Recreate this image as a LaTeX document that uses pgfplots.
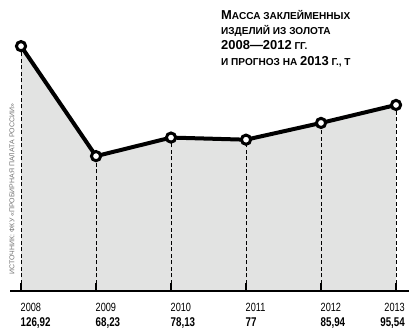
\documentclass[border=0pt]{standalone}
\usepackage{fontspec}
\setmainfont{Liberation Sans}
\usepackage{pgfplots}
\pgfplotsset{compat=1.18}
\definecolor{fillgray}{RGB}{226,227,226}
\definecolor{srcgray}{RGB}{115,115,115}
\newcommand\bg[1]{{\fontsize{13}{13}\selectfont #1}}
\newcommand\sm[1]{{\fontsize{10.1}{10}\selectfont\MakeUppercase{#1}}}
\newcommand\yr[1]{\scalebox{1}[1.3]{\fontsize{9.2}{10}\selectfont #1}}
\newcommand\vl[1]{\scalebox{1}[1.3]{\fontsize{9.8}{10}\selectfont\bfseries #1}}
\begin{document}
\begin{tikzpicture}[x=1bp,y=1bp]
\path[use as bounding box] (0,0) rectangle (418,330);
\begin{axis}[at={(10bp,39.3bp)}, anchor=south west, scale only axis,
  width=399bp, height=250.7bp,
  xmin=2007.853, xmax=2013.173, ymin=-3.58, ymax=130.2,
  axis lines=none, clip=false]
\addplot[fill=fillgray, draw=none] coordinates {(2008,-3.58) (2008,126.92) (2009,68.23) (2010,78.13) (2011,77) (2012,85.94) (2013,95.54) (2013,-3.58)} -- cycle;
\addplot[ycomb, black, line width=0.9bp, dash pattern=on 4bp off 2.5bp] coordinates {(2008,126.92) (2009,68.23) (2010,78.13) (2011,77) (2012,85.94) (2013,95.54)};
\draw[line width=2.2bp] (axis cs:2007.853,-3.58) -- (axis cs:2013.173,-3.58);
\pgfplotsinvokeforeach{2008,2009,2010,2011,2012,2013}{
  \draw[line width=1.4bp] (axis cs:#1,-3.58) -- (axis cs:#1,0.6);
}
\addplot[black, line width=4bp, mark=*, mark options={fill=white, draw=black, line width=3bp}, mark size=4.6bp] coordinates {(2008,126.92) (2009,68.23) (2010,78.13) (2011,77) (2012,85.94) (2013,95.54)};
\end{axis}
% tick labels
\node[anchor=base west, inner sep=0pt] at (20.5,18.3) {\yr{2008}};
\node[anchor=base west, inner sep=0pt] at (95.5,18.3) {\yr{2009}};
\node[anchor=base west, inner sep=0pt] at (170.5,18.3) {\yr{2010}};
\node[anchor=base west, inner sep=0pt] at (245.5,18.3) {\yr{2011}};
\node[anchor=base west, inner sep=0pt] at (320.5,18.3) {\yr{2012}};
\node[anchor=base east, inner sep=0pt] at (405,18.3) {\yr{2013}};
\node[anchor=base west, inner sep=0pt] at (20.5,3.3) {\vl{126,92}};
\node[anchor=base west, inner sep=0pt] at (95.5,3.3) {\vl{68,23}};
\node[anchor=base west, inner sep=0pt] at (170.5,3.3) {\vl{78,13}};
\node[anchor=base west, inner sep=0pt] at (245.5,3.3) {\vl{77}};
\node[anchor=base west, inner sep=0pt] at (320.5,3.3) {\vl{85,94}};
\node[anchor=base east, inner sep=0pt] at (405,3.3) {\vl{95,54}};
% source
\node[rotate=90, inner sep=0pt, text=srcgray, font=\fontsize{7}{8}\selectfont] at (12,141) {ИСТОЧНИК: ФКУ «ПРОБИРНАЯ ПАЛАТА РОССИИ»};
% title
\node[anchor=base west, inner sep=0pt, font=\bfseries] at (221,310.7) {\bg{М}\sm{асса заклейменных}};
\node[anchor=base west, inner sep=0pt, font=\bfseries] at (221,295.4) {\sm{изделий из золота}};
\node[anchor=base west, inner sep=0pt, font=\bfseries] at (221,280.1) {\bg{2008—2012} \sm{гг.}};
\node[anchor=base west, inner sep=0pt, font=\bfseries] at (221,264.8) {\sm{и прогноз на} \bg{2013} \sm{г., т}};
\end{tikzpicture}
\end{document}
